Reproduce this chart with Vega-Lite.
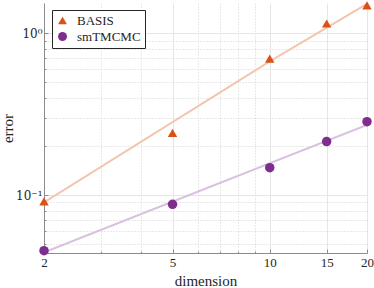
{
  "$schema": "https://vega.github.io/schema/vega-lite/v6.json",
  "width": 323,
  "height": 250,
  "autosize": "none",
  "padding": {"left": 44, "top": 3, "right": 7, "bottom": 35},
  "background": "white",
  "config": {"view": {"stroke": null}, "font": "Liberation Serif"},
  "datasets": {
    "points": [
      {"method": "BASIS", "dimension": 2, "error": 0.0914},
      {"method": "BASIS", "dimension": 5, "error": 0.242},
      {"method": "BASIS", "dimension": 10, "error": 0.697},
      {"method": "BASIS", "dimension": 15, "error": 1.15},
      {"method": "BASIS", "dimension": 20, "error": 1.49},
      {"method": "smTMCMC", "dimension": 2, "error": 0.0453},
      {"method": "smTMCMC", "dimension": 5, "error": 0.0876},
      {"method": "smTMCMC", "dimension": 10, "error": 0.1476},
      {"method": "smTMCMC", "dimension": 15, "error": 0.214},
      {"method": "smTMCMC", "dimension": 20, "error": 0.284}
    ],
    "fit": [
      {"fit": "BASIS fit", "dimension": 2, "error": 0.09},
      {"fit": "BASIS fit", "dimension": 10, "error": 0.67},
      {"fit": "BASIS fit", "dimension": 20, "error": 1.52},
      {"fit": "smTMCMC fit", "dimension": 2, "error": 0.0442},
      {"fit": "smTMCMC fit", "dimension": 20, "error": 0.271}
    ]
  },
  "encoding": {
    "x": {
      "field": "dimension",
      "type": "quantitative",
      "scale": {"type": "log", "domain": [2, 20], "nice": false},
      "axis": {
        "title": "dimension",
        "titleFont": "Liberation Serif",
        "titleFontSize": 15,
        "titleFontWeight": "normal",
        "titleColor": "#262626",
        "titlePadding": 2,
        "values": [2, 3, 4, 5, 6, 7, 8, 9, 10, 15, 20],
        "labelExpr": "indexof([2,5,10,15,20], datum.value) >= 0 ? datum.value : ''",
        "labelFont": "Liberation Serif",
        "labelFontSize": 13,
        "labelColor": "#262626",
        "labelPadding": 7,
        "labelFlush": false,
        "labelOverlap": false,
        "domainColor": "#8c8c8c",
        "tickColor": "#8c8c8c",
        "tickSize": {"condition": {"test": "indexof([2,5,10,15,20], datum.value) >= 0", "value": -4}, "value": -2},
        "grid": true,
        "gridColor": {"condition": {"test": "indexof([2,5,10,15,20], datum.value) >= 0", "value": "#e6e6e6"}, "value": "#d2d2d2"},
        "gridDash": {"condition": {"test": "indexof([2,5,10,15,20], datum.value) >= 0", "value": []}, "value": [1, 2]}
      }
    },
    "y": {
      "field": "error",
      "type": "quantitative",
      "scale": {"type": "log", "domain": [0.0438, 1.54], "nice": false},
      "axis": {
        "title": "error",
        "titleFont": "Liberation Serif",
        "titleFontSize": 15,
        "titleFontWeight": "normal",
        "titleColor": "#262626",
        "titlePadding": 0,
        "values": [0.05, 0.06, 0.07, 0.08, 0.09, 0.1, 0.2, 0.3, 0.4, 0.5, 0.6, 0.7, 0.8, 0.9, 1],
        "labelExpr": "datum.value == 1 ? '10⁰' : (datum.value == 0.1 ? '10⁻¹' : '')",
        "labelFont": "DejaVu Serif",
        "labelFontSize": 12,
        "labelColor": "#262626",
        "labelPadding": 6,
        "labelOverlap": false,
        "labelFlush": false,
        "domainColor": "#8c8c8c",
        "tickColor": "#8c8c8c",
        "tickSize": {"condition": {"test": "datum.value == 1 || datum.value == 0.1", "value": -4}, "value": -2},
        "grid": true,
        "gridColor": {"condition": {"test": "datum.value == 1 || datum.value == 0.1", "value": "#e6e6e6"}, "value": "#d2d2d2"},
        "gridDash": {"condition": {"test": "datum.value == 1 || datum.value == 0.1", "value": []}, "value": [1, 2]}
      }
    }
  },
  "layer": [
    {
      "data": {"name": "fit"},
      "mark": {"type": "line", "strokeWidth": 2, "clip": true},
      "encoding": {
        "stroke": {
          "field": "fit",
          "type": "nominal",
          "scale": {"domain": ["BASIS fit", "smTMCMC fit"], "range": ["#f5c4ad", "#d9bfe0"]},
          "legend": null
        }
      }
    },
    {
      "data": {"name": "points"},
      "mark": {"type": "point", "filled": true, "opacity": 1, "clip": false, "size": 90},
      "encoding": {
        "color": {
          "field": "method",
          "type": "nominal",
          "scale": {"domain": ["BASIS", "smTMCMC"], "range": ["#d95319", "#7e2f8e"]},
          "legend": {
            "title": null,
            "orient": "none",
            "legendX": 8,
            "legendY": 7,
            "strokeColor": "#262626",
            "fillColor": "white",
            "padding": 4,
            "labelFont": "Liberation Serif",
            "labelFontSize": 13,
            "labelColor": "#262626",
            "symbolSize": 80,
            "symbolOpacity": 1,
            "rowPadding": 1,
            "labelOffset": 8
          }
        },
        "shape": {
          "field": "method",
          "type": "nominal",
          "scale": {"domain": ["BASIS", "smTMCMC"], "range": ["triangle-up", "circle"]}
        }
      }
    }
  ]
}
